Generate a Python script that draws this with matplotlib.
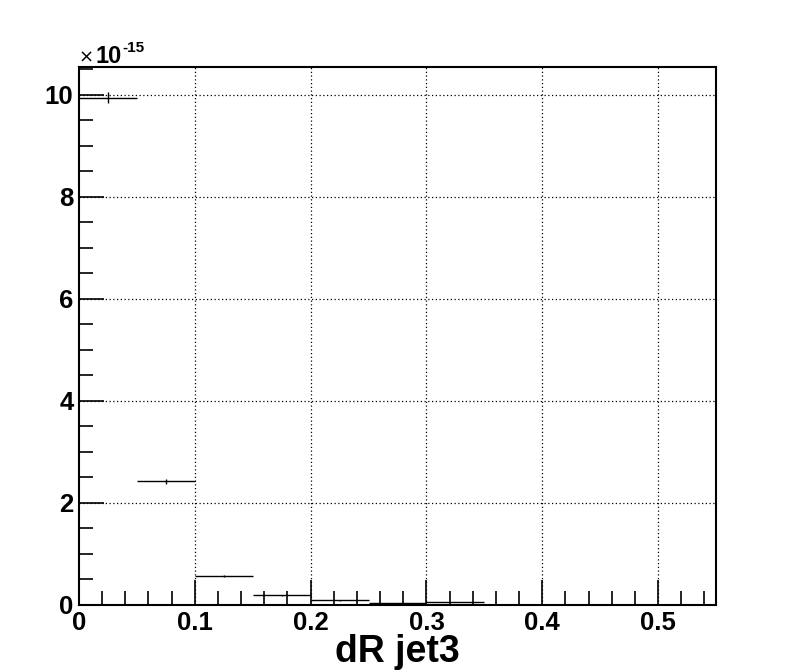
import numpy as np
import matplotlib
matplotlib.use("Agg")
import matplotlib.pyplot as plt
from matplotlib.ticker import MultipleLocator, FuncFormatter

# histogram contents (units of 1e-15)
bin_edges = [0.0, 0.05, 0.10, 0.15, 0.20, 0.25, 0.30, 0.35]
contents = [9.94, 2.42, 0.553, 0.18, 0.08, 0.02, 0.05]
errors = [0.10, 0.05, 0.02, 0.01, 0.01, 0.005, 0.005]

plt.rcParams['font.family'] = ['Liberation Sans', 'DejaVu Sans']
plt.rcParams['font.weight'] = 'bold'

fig = plt.figure(figsize=(7.96, 6.72), dpi=100)
ax = fig.add_axes([79/796, 1-604.5/672, (716-79)/796, (604.5-67)/672])

edges = np.array(bin_edges)
centers = 0.5*(edges[:-1]+edges[1:])
half = 0.5*(edges[1:]-edges[:-1])
ax.errorbar(centers, contents, xerr=half, yerr=errors, fmt='none',
            ecolor='black', elinewidth=1.0, capsize=0)

ax.set_xlim(0, 0.55)
ax.set_ylim(0, 10.54)
ax.xaxis.set_major_locator(MultipleLocator(0.1))
ax.xaxis.set_minor_locator(MultipleLocator(0.02))
ax.yaxis.set_major_locator(MultipleLocator(2))
ax.yaxis.set_minor_locator(MultipleLocator(0.5))
ax.xaxis.set_major_formatter(FuncFormatter(lambda v, p: '0' if abs(v) < 1e-9 else f'{v:.1f}'))
ax.yaxis.set_major_formatter(FuncFormatter(lambda v, p: f'{v:.0f}'))

ax.tick_params(which='both', direction='in', top=False, right=False, labelsize=18.5, width=1.2)
ax.tick_params(which='major', length=18)
ax.tick_params(which='minor', length=10)
ax.tick_params(axis='x', pad=5)
ax.tick_params(axis='y', pad=4)
for lab in ax.get_xticklabels() + ax.get_yticklabels():
    lab.set_fontweight('bold')

# dotted grid at the major ticks (not on the axes themselves)
for xv in [0.1, 0.2, 0.3, 0.4, 0.5]:
    ax.axvline(xv, color='black', linestyle=(0, (1, 2)), linewidth=0.9, zorder=0)
for yv in [2, 4, 6, 8, 10]:
    ax.axhline(yv, color='black', linestyle=(0, (1, 2)), linewidth=0.9, zorder=0)

for s in ax.spines.values():
    s.set_linewidth(1.5)

ax.set_xlabel('dR jet3', fontsize=27, fontweight='bold', labelpad=-1)

# ROOT style common exponent
fig.text(94/796, 1-57.5/672, '\u00d7', fontsize=13, fontweight='normal',
         va='center', ha='right', family='DejaVu Sans')
fig.text(95.5/796, 1-63/672, '10', fontsize=17, fontweight='bold',
         va='baseline', ha='left')
fig.text(122/796, 1-52/672, '-15', fontsize=11, fontweight='bold',
         va='baseline', ha='left')

fig.savefig('out.png', dpi=100, facecolor='white')
